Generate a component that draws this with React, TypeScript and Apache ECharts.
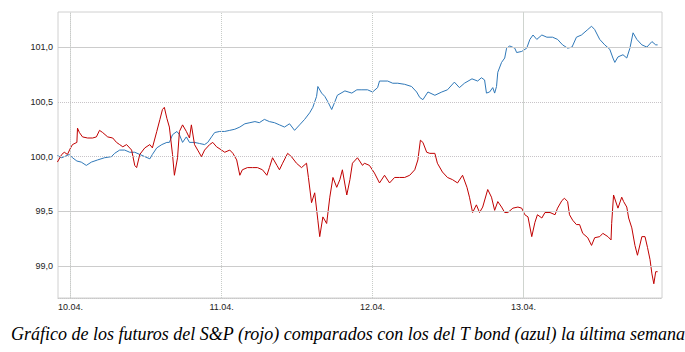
import React, { useEffect, useRef } from "react";
import * as echarts from "echarts";

// hours since 10.04. 00:00, value
const tbondSeries: [number, number][] = [
  [-2.1, 100.01], [-1.4, 99.99], [-1.0, 100.0], [-0.2, 100.02], [0.3, 99.99], [1.0, 99.96], [1.7, 99.95],
  [2.5, 99.92], [3.3, 99.95], [4.3, 99.97], [5.4, 99.99], [6.5, 100.0], [7.0, 100.03], [7.8, 100.06],
  [8.6, 100.06], [9.4, 100.04], [10.2, 100.04], [11.0, 100.02], [11.8, 100.0], [12.6, 99.98], [13.0, 100.02],
  [13.7, 100.08], [14.5, 100.11], [15.3, 100.13], [15.7, 100.13], [16.2, 100.2], [16.9, 100.23], [17.3, 100.2],
  [17.8, 100.13], [18.4, 100.18], [18.9, 100.13], [19.7, 100.13], [20.5, 100.12], [21.3, 100.11], [21.8, 100.13],
  [22.4, 100.18], [22.9, 100.22], [23.7, 100.23], [24.5, 100.23], [25.3, 100.24], [26.1, 100.25], [26.9, 100.27],
  [27.7, 100.3], [28.5, 100.31], [29.3, 100.32], [30.0, 100.31], [30.8, 100.34], [31.6, 100.32], [32.4, 100.31],
  [33.2, 100.29], [34.0, 100.27], [34.8, 100.3], [35.6, 100.24], [36.4, 100.29], [37.2, 100.34], [38.0, 100.4],
  [38.5, 100.45], [39.1, 100.55], [39.3, 100.64], [39.9, 100.58], [40.4, 100.55], [40.9, 100.5], [41.5, 100.43],
  [42.0, 100.5], [42.4, 100.56], [43.6, 100.6], [44.7, 100.58], [45.5, 100.61], [46.3, 100.61], [47.2, 100.61],
  [48.0, 100.59], [48.8, 100.63], [49.1, 100.69], [50.4, 100.69], [51.2, 100.67], [52.0, 100.67], [53.1, 100.66],
  [54.2, 100.64], [55.0, 100.59], [55.5, 100.54], [56.0, 100.52], [56.8, 100.59], [57.9, 100.56], [59.0, 100.59],
  [59.9, 100.61], [61.0, 100.68], [61.8, 100.63], [62.6, 100.67], [63.8, 100.71], [64.7, 100.69], [65.3, 100.72],
  [65.8, 100.7], [66.1, 100.58], [66.6, 100.59], [67.1, 100.63], [67.4, 100.58], [67.7, 100.64], [67.9, 100.77],
  [68.5, 100.86], [69.0, 100.9], [69.3, 100.99], [69.8, 101.01], [70.6, 100.99], [70.9, 100.95], [71.7, 100.96],
  [72.5, 100.99], [73.0, 101.07], [73.5, 101.11], [74.1, 101.07], [74.9, 101.11], [75.7, 101.09], [76.6, 101.09],
  [77.4, 101.07], [78.2, 101.02], [79.0, 100.99], [79.7, 101.0], [80.4, 101.09], [81.2, 101.11], [82.2, 101.16],
  [82.8, 101.19], [83.3, 101.16], [84.1, 101.07], [84.9, 101.02], [85.7, 100.98], [86.2, 100.9], [86.5, 100.86],
  [87.0, 100.91], [87.8, 100.93], [88.4, 100.9], [88.9, 100.99], [89.4, 101.13], [90.0, 101.07], [90.8, 101.02],
  [91.6, 101.0], [92.4, 101.05], [93.0, 101.02], [93.3, 101.02],
];

const spSeries: [number, number][] = [
  [-2.1, 99.95], [-1.4, 100.02], [-1.0, 100.04], [-0.5, 100.02], [0.0, 100.08], [0.3, 100.11], [1.0, 100.13],
  [1.1, 100.26], [1.4, 100.22], [1.9, 100.18], [2.7, 100.17], [3.5, 100.17], [4.1, 100.18], [4.6, 100.24],
  [5.1, 100.22], [5.9, 100.18], [6.7, 100.17], [7.3, 100.13], [7.8, 100.11], [8.3, 100.09], [8.9, 100.11],
  [9.7, 100.06], [10.2, 99.92], [10.5, 99.9], [11.0, 100.02], [11.8, 100.08], [12.6, 100.11], [13.0, 100.08],
  [13.7, 100.23], [14.2, 100.34], [14.6, 100.43], [14.9, 100.45], [15.3, 100.35], [15.7, 100.27], [16.2, 100.02],
  [16.5, 99.83], [17.0, 99.99], [17.3, 100.23], [17.8, 100.29], [18.4, 100.23], [18.9, 100.17], [19.2, 100.29],
  [19.7, 100.11], [20.2, 100.06], [20.8, 100.0], [21.3, 100.06], [22.1, 100.11], [22.6, 100.13], [23.2, 100.09],
  [24.0, 100.06], [24.5, 100.04], [25.3, 100.06], [25.8, 100.03], [26.4, 99.97], [26.9, 99.83], [27.3, 99.88],
  [28.1, 99.9], [28.9, 99.9], [29.7, 99.9], [30.5, 99.88], [31.2, 99.83], [31.6, 99.9], [32.1, 99.99],
  [32.8, 99.92], [33.2, 99.88], [33.7, 99.94], [34.5, 100.03], [35.1, 100.0], [35.9, 99.94], [36.7, 99.9],
  [37.5, 99.94], [37.8, 99.81], [38.3, 99.58], [38.8, 99.67], [39.3, 99.42], [39.6, 99.27], [40.1, 99.45],
  [40.7, 99.39], [41.2, 99.63], [41.7, 99.81], [42.3, 99.72], [42.8, 99.79], [43.2, 99.88], [43.9, 99.65],
  [44.4, 99.79], [44.8, 99.94], [45.6, 99.99], [46.4, 99.92], [46.7, 99.94], [47.5, 99.92], [48.3, 99.85],
  [49.1, 99.76], [49.9, 99.83], [50.7, 99.76], [51.5, 99.81], [52.3, 99.81], [53.1, 99.81], [53.9, 99.83],
  [54.7, 99.88], [55.2, 99.97], [55.6, 100.15], [56.0, 100.13], [56.6, 100.04], [57.1, 100.03], [57.9, 100.03],
  [58.3, 99.94], [59.1, 99.86], [59.9, 99.81], [60.7, 99.79], [61.5, 99.76], [62.3, 99.83], [63.0, 99.72],
  [63.4, 99.63], [63.9, 99.49], [64.5, 99.56], [65.0, 99.49], [65.5, 99.54], [66.3, 99.7], [66.9, 99.63],
  [67.4, 99.51], [67.9, 99.59], [68.5, 99.54], [69.0, 99.49], [69.5, 99.49], [70.3, 99.53], [71.1, 99.54],
  [71.7, 99.53], [72.2, 99.47], [72.7, 99.45], [73.3, 99.27], [73.8, 99.4], [74.2, 99.47], [74.9, 99.44],
  [75.4, 99.49], [76.2, 99.49], [77.0, 99.47], [77.4, 99.53], [78.1, 99.6], [78.5, 99.62], [79.0, 99.59],
  [79.3, 99.47], [79.8, 99.42], [80.4, 99.38], [80.9, 99.38], [81.4, 99.3], [82.2, 99.26], [82.8, 99.19],
  [83.3, 99.26], [84.1, 99.27], [84.6, 99.3], [85.4, 99.27], [85.9, 99.24], [86.0, 99.39], [86.3, 99.65],
  [87.0, 99.53], [87.6, 99.63], [87.9, 99.59], [88.4, 99.54], [88.7, 99.44], [89.2, 99.35], [89.7, 99.19],
  [90.1, 99.1], [90.8, 99.27], [91.3, 99.27], [91.7, 99.17], [92.1, 99.06], [92.4, 98.93], [92.7, 98.84],
  [93.0, 98.95], [93.3, 98.95],
];

const dayTicks = [0, 24, 48, 72];
const dayLabels = ["10.04.", "11.04.", "12.04.", "13.04."];
const valueTicks = [99, 99.5, 100, 100.5, 101];
const caption =
  "Gráfico de los futuros del S&P (rojo) comparados con los del T bond (azul) la última semana";

export default function App() {
  const ref = useRef<HTMLDivElement>(null);
  useEffect(() => {
    if (!ref.current) return;
    const chart = echarts.init(ref.current, null, { renderer: "svg" });
    const solidGrid = { color: "#cccccc", width: 1, type: "solid" as const };
    const dottedGrid = { color: "#c8c4c8", width: 1, type: [1, 1] as any };
    const hStyles: Record<string, any> = {
      "99": solidGrid,
      "99.5": solidGrid,
      "100": dottedGrid,
      "100.5": dottedGrid,
      "101": solidGrid,
    };
    const gridLines: any[] = [
      ...valueTicks.map((v) => ({ yAxis: v, lineStyle: hStyles[String(v)] })),
      ...dayTicks.map((d, i) => ({
        xAxis: d,
        lineStyle: i === 3 ? { color: "#cfd4cf", width: 1, type: "solid" } : { color: "#c8ccc8", width: 1, type: [1, 1] },
      })),
    ];
    chart.setOption({
      animation: false,
      backgroundColor: "#ffffff",
      grid: {
        left: 58,
        right: 23,
        top: 12,
        bottom: 54,
        show: true,
        borderColor: "#d0d0d0",
        borderWidth: 1,
      },
      xAxis: {
        type: "value",
        min: -2,
        max: 94,
        axisLine: { show: true, lineStyle: { color: "#c8c8c8", type: [1, 1] } },
        axisTick: { show: false },
        splitLine: { show: false },
        axisLabel: {
          customValues: dayTicks,
          formatter: (v: number) => dayLabels[dayTicks.indexOf(Math.round(v))] ?? "",
          color: "#222",
          fontFamily: "Liberation Sans, Arial, sans-serif",
          fontSize: 9,
          margin: 4,
        },
      },
      yAxis: {
        type: "value",
        min: 98.71,
        max: 101.32,
        axisLine: { show: true, lineStyle: { color: "#c8c8c8", type: [1, 1] } },
        axisTick: { show: false },
        splitLine: { show: false },
        axisLabel: {
          customValues: valueTicks,
          formatter: (v: number) => v.toFixed(1).replace(".", ","),
          color: "#222",
          fontFamily: "Liberation Sans, Arial, sans-serif",
          fontSize: 9,
          margin: 5,
        },
      },
      series: [
        {
          type: "line",
          data: [],
          z: 1,
          silent: true,
          markLine: {
            silent: true,
            symbol: "none",
            label: { show: false },
            animation: false,
            data: gridLines,
          },
        },
        {
          name: "T bond",
          type: "line",
          data: tbondSeries,
          showSymbol: false,
          z: 3,
          lineStyle: { color: "#2f78b8", width: 1 },
          itemStyle: { color: "#2f78b8" },
        },
        {
          name: "S&P",
          type: "line",
          data: spSeries,
          showSymbol: false,
          z: 4,
          lineStyle: { color: "#c00000", width: 1 },
          itemStyle: { color: "#c00000" },
        },
      ],
      graphic: [
        {
          type: "text",
          left: 11,
          top: 325,
          style: {
            text: caption,
            fill: "#000",
            font: 'italic 18px "Liberation Serif", "Times New Roman", serif',
          },
        },
      ],
    });
    return () => chart.dispose();
  }, []);
  return (
    <div
      ref={ref}
      style={{ position: "fixed", left: 0, top: 0, width: 685, height: 352 }}
    />
  );
}
